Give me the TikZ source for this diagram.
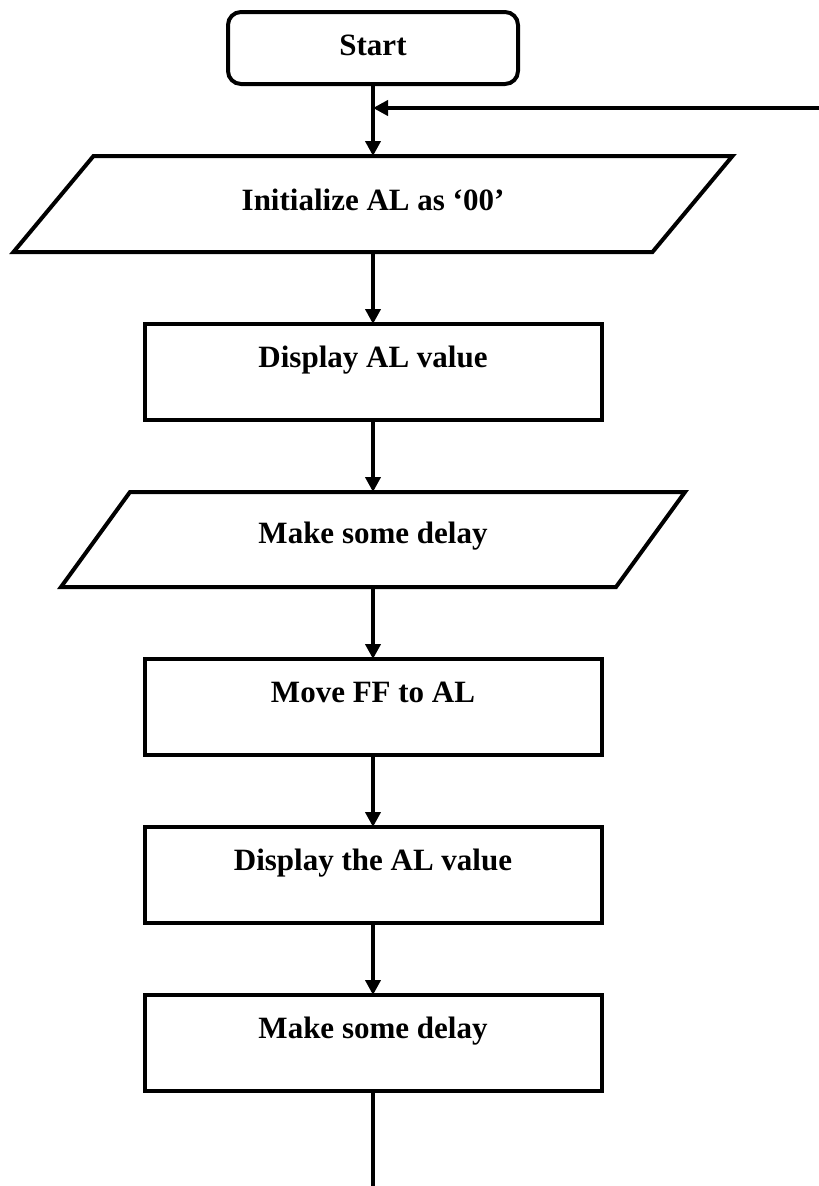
\documentclass[tikz,border=0pt]{standalone}
\usepackage{fontspec}
\setmainfont{Liberation Serif}
\usetikzlibrary{positioning,arrows.meta}

\tikzstyle{terminal} = [rectangle, draw, rounded corners=13pt, minimum width=290pt
                       , inner sep=0pt, text height=43pt, text depth=29pt]
\tikzstyle{process}  = [rectangle, draw, minimum width=457pt
                       , inner sep=0pt, text height=43pt, text depth=53pt]
\tikzstyle{io}       = [rectangle, inner sep=0pt, text height=54pt, text depth=42pt]
\tikzstyle{flow}     = [-{Triangle[length=15pt, width=15pt]}]

\begin{document}
\begin{tikzpicture}[line width=4pt, outer sep=0pt, node distance=72pt
                   , font=\fontsize{31}{36}\selectfont\bfseries]
\useasboundingbox (0,0) rectangle (819pt,-1186pt);

%% Start Node
\node [terminal] (start) at (373pt,-48pt) {Start};

%% Initialize Node
\node [io, minimum width=719pt, below=of start] (init) {Initialize AL as ‘00’};
\draw (init.south west) -- ([xshift=80pt]init.north west) -- (init.north east)
      -- ([xshift=-80pt]init.south east) -- cycle;

%% Display Node
\node [process, below=of init] (showAL) {Display AL value};

%% First delay Node
\node [io, minimum width=624pt, text height=51pt, text depth=44pt, below=of showAL] (delayA) {Make some delay};
\draw (delayA.south west) -- ([xshift=69pt]delayA.north west) -- (delayA.north east)
      -- ([xshift=-69pt]delayA.south east) -- cycle;

%% Lower part
\node [process, below=of delayA] (moveFF) {Move FF to AL};
\node [process, below=of moveFF] (showFF) {Display the AL value};
\node [process, below=of showFF] (delayB) {Make some delay};

%% Connectors
\coordinate (loopin) at (819pt,-108pt);
\coordinate (loopout) at (373pt,-1186pt);
\draw [flow] (start) -- (init);
\draw [flow] (init) -- (showAL);
\draw [flow] (showAL) -- (delayA);
\draw [flow] (delayA) -- (moveFF);
\draw [flow] (moveFF) -- (showFF);
\draw [flow] (showFF) -- (delayB);
\draw [flow] (loopin) -- (loopin -| start.south);
\draw (delayB) -- (loopout);

\end{tikzpicture}
\end{document}
